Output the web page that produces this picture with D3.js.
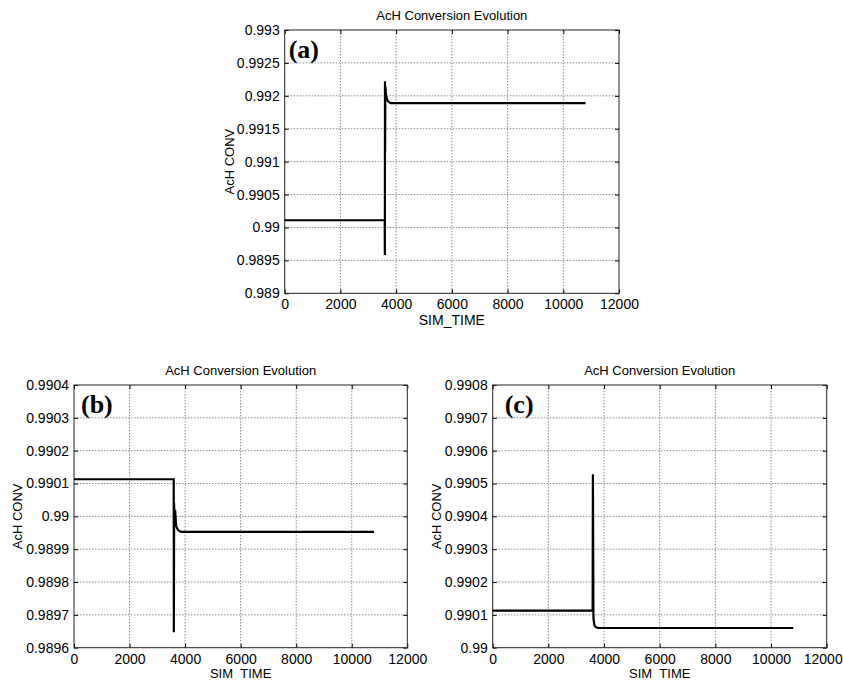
<!DOCTYPE html>
<html>
<head>
<meta charset="utf-8">
<script src="https://cdn.jsdelivr.net/npm/d3@7"></script>
<style>
  body { margin: 0; background: #fff; }
  svg { display: block; }
  .grid line { stroke: #8a8a8a; stroke-dasharray: 1.5,1.5; stroke-width: 1; }
</style>
</head>
<body>
<svg width="843" height="680"></svg>
<script>
// shared x axis
const xTicks = [0, 2000, 4000, 6000, 8000, 10000, 12000];

// panel (a)
const timeA = [0, 3590, 3595, 3600, 3605, 3612, 3640, 3700, 3800, 10800];
const convA = [0.99011, 0.99011, 0.98958, 0.99222, 0.99115, 0.99215, 0.99200, 0.99192, 0.99189, 0.99189];
const yTicksA = [0.989, 0.9895, 0.99, 0.9905, 0.991, 0.9915, 0.992, 0.9925, 0.993];

// panel (b)
const timeB = [0, 3590, 3595, 3605, 3615, 3640, 3680, 3750, 3850, 10800];
const convB = [0.990113, 0.990113, 0.989647, 0.99004, 0.98998, 0.99002, 0.98997, 0.989958, 0.989953, 0.989953];
const yTicksB = [0.9896, 0.9897, 0.9898, 0.9899, 0.99, 0.9901, 0.9902, 0.9903, 0.9904];

// panel (c)
const timeC = [0, 3590, 3600, 3620, 3650, 3700, 3800, 10800];
const convC = [0.990113, 0.990113, 0.990528, 0.99009, 0.99007, 0.990063, 0.99006, 0.99006];
const yTicksC = [0.99, 0.9901, 0.9902, 0.9903, 0.9904, 0.9905, 0.9906, 0.9907, 0.9908];

const SANS = "'Liberation Sans', Arial, Helvetica, sans-serif";
const SERIF = "'Liberation Serif', 'Times New Roman', 'DejaVu Serif', serif";

const svg = d3.select("svg");

function styleText(sel, size) {
    sel.attr("font-family", SANS).attr("font-size", size || 13).attr("fill", "#000");
}

function drawPanel(opt) {
    let w = opt.right - opt.left,
        h = opt.bottom - opt.top;
    let g = svg.append("g").attr("transform", "translate(" + opt.left + "," + opt.top + ")");

    let x = d3.scaleLinear().domain([0, 12000]).range([0, w]);
    let y = d3.scaleLinear().domain([opt.yTicks[0], opt.yTicks[opt.yTicks.length - 1]]).range([h, 0]);

    // grid
    let grid = g.append("g").attr("class", "grid");
    grid.selectAll(".gx").data(xTicks.slice(1, -1)).enter().append("line")
        .attr("x1", d => x(d)).attr("x2", d => x(d)).attr("y1", 0).attr("y2", h);
    grid.selectAll(".gy").data(opt.yTicks.slice(1, -1)).enter().append("line")
        .attr("y1", d => y(d)).attr("y2", d => y(d)).attr("x1", 0).attr("x2", w);

    // axes, ticks pointing inward like matlab
    let xAxis = g.append("g").attr("transform", "translate(0," + h + ")")
        .call(d3.axisBottom(x).tickValues(xTicks).tickSizeInner(-4).tickSizeOuter(0).tickPadding(6).tickFormat(d3.format("d")));
    xAxis.select(".domain").remove();
    xAxis.attr("font-family", null).attr("font-size", null);
    styleText(xAxis.selectAll("text"), 14);
    if (opt.nudgeLast) xAxis.selectAll("text").filter(d => d === 12000).attr("dx", opt.nudgeLast);

    let yAxis = g.append("g")
        .call(d3.axisLeft(y).tickValues(opt.yTicks).tickSizeInner(-4).tickSizeOuter(0).tickPadding(5).tickFormat(d3.format("~g")));
    yAxis.select(".domain").remove();
    yAxis.attr("font-family", null).attr("font-size", null);
    styleText(yAxis.selectAll("text"), 14);

    g.append("g").attr("transform", "translate(" + w + ",0)")
        .call(d3.axisRight(y).tickValues(opt.yTicks).tickSizeInner(-4).tickSizeOuter(0).tickFormat(""))
        .call(a => a.select(".domain").remove());
    g.append("g")
        .call(d3.axisTop(x).tickValues(xTicks).tickSizeInner(-4).tickSizeOuter(0).tickFormat(""))
        .call(a => a.select(".domain").remove());

    g.append("rect").attr("width", w).attr("height", h)
        .attr("fill", "none").attr("stroke", "#222").attr("stroke-width", 1);

    // data line
    let line = d3.line().x(d => x(d[0])).y(d => y(d[1]));
    g.append("path")
        .datum(opt.time.map((t, i) => [t, opt.conv[i]]))
        .attr("fill", "none").attr("stroke", "#000").attr("stroke-width", 2.2)
        .attr("d", line);

    // labels
    g.append("text").attr("text-anchor", "middle")
        .attr("x", w / 2).attr("y", -10).text("AcH Conversion Evolution").call(styleText);
    g.append("text").attr("text-anchor", "middle")
        .attr("x", w / 2).attr("y", h + opt.xLabelDy).text("SIM_TIME").call(styleText, opt.xLabelSize);
    g.append("text").attr("text-anchor", "middle")
        .attr("transform", "translate(" + opt.yLabelDx + "," + (h / 2) + ") rotate(-90)").text("AcH CONV").call(styleText);
    g.append("text")
        .attr("font-family", SERIF).attr("font-weight", "bold").attr("font-size", 26)
        .attr("x", opt.tagX).attr("y", 28).text(opt.tag);
}

drawPanel({ left: 284.7, top: 30, right: 619, bottom: 293.3, yTicks: yTicksA, time: timeA, conv: convA,
            tag: "(a)", tagX: 4, xLabelDy: 32, xLabelSize: 14, yLabelDx: -51 });
drawPanel({ left: 74, top: 385, right: 407.3, bottom: 647.7, yTicks: yTicksB, time: timeB, conv: convB,
            tag: "(b)", tagX: 7, xLabelDy: 30.5, xLabelSize: 13, yLabelDx: -52 });
drawPanel({ left: 492.7, top: 385, right: 826.7, bottom: 647.7, yTicks: yTicksC, time: timeC, conv: convC,
            tag: "(c)", tagX: 12, xLabelDy: 30.5, xLabelSize: 13, yLabelDx: -52, nudgeLast: -4 });
</script>
</body>
</html>
